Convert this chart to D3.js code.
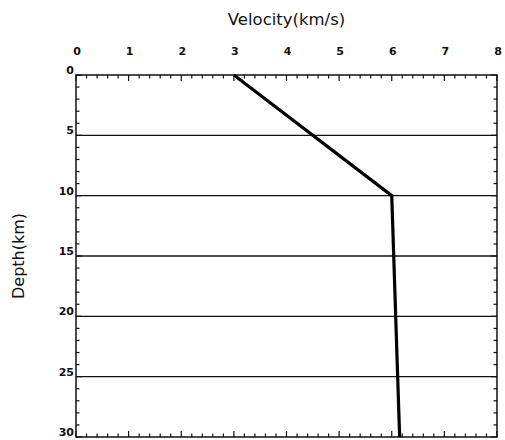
<!DOCTYPE html>
<html>
<head>
<meta charset="utf-8">
<script src="https://cdn.jsdelivr.net/npm/d3@7"></script>
<style>
  body { margin: 0; background: #fff; }
  text { font-family: "DejaVu Sans", Verdana, sans-serif; fill: #111; }
</style>
</head>
<body>
<div id="chart"></div>
<script>
// velocity model
const depths = [0, 10, 30];
const velocities = [3, 6, 6.15];
const xTicks = [0, 1, 2, 3, 4, 5, 6, 7, 8];
const yTicks = [0, 5, 10, 15, 20, 25, 30];
const gridDepths = [5, 10, 15, 20, 25];

const margin = {top: 75, right: 8, bottom: 3, left: 76};
const width = 505 - margin.left - margin.right;
const height = 440 - margin.top - margin.bottom;

const svg = d3.select("#chart")
  .append("svg")
  .attr("width", 505)
  .attr("height", 440)
  .append("g")
  .attr("transform", "translate(" + margin.left + "," + margin.top + ")");

const x = d3.scaleLinear().domain([0, 8]).range([0, width]);
const y = d3.scaleLinear().domain([0, 30]).range([0, height]);

// horizontal grid lines
svg.append("g")
  .selectAll("line")
  .data(gridDepths)
  .enter()
  .append("line")
    .attr("x1", 0)
    .attr("x2", width)
    .attr("y1", d => y(d))
    .attr("y2", d => y(d))
    .attr("stroke", "#111")
    .attr("stroke-width", 1.3);

// ticks on all four sides, pointing inwards
const xMinor = d3.range(0, 8.001, 0.2);
const yMinor = d3.range(0, 30.001, 1);
const isMajorX = d => Math.abs(d - Math.round(d)) < 1e-6;
const isMajorY = d => d % 5 === 0;

function tickSide(vals, major, pos, horiz, edge, dir) {
  svg.append("g")
    .selectAll("line")
    .data(vals)
    .enter()
    .append("line")
      .attr(horiz ? "x1" : "y1", d => pos(d))
      .attr(horiz ? "x2" : "y2", d => pos(d))
      .attr(horiz ? "y1" : "x1", edge)
      .attr(horiz ? "y2" : "x2", d => edge + dir * (major(d) ? 6 : 3.5))
      .attr("stroke", "#111")
      .attr("stroke-width", 1.2);
}
tickSide(xMinor, isMajorX, x, true, 0, 1);
tickSide(xMinor, isMajorX, x, true, height, -1);
tickSide(yMinor, isMajorY, y, false, 0, 1);
tickSide(yMinor, isMajorY, y, false, width, -1);

// frame
svg.append("rect")
  .attr("width", width)
  .attr("height", height)
  .attr("fill", "none")
  .attr("stroke", "#111")
  .attr("stroke-width", 1.5);

// tick labels
svg.append("g")
  .selectAll("text")
  .data(xTicks)
  .enter()
  .append("text")
    .attr("x", d => x(d) + 1)
    .attr("y", -20)
    .attr("text-anchor", "middle")
    .attr("font-size", 11)
    .attr("font-weight", "bold")
    .text(d => d);

svg.append("g")
  .selectAll("text")
  .data(yTicks)
  .enter()
  .append("text")
    .attr("x", -2)
    .attr("y", d => y(d) - 1)
    .attr("text-anchor", "end")
    .attr("font-size", 11)
    .attr("font-weight", "bold")
    .text(d => d);

// axis titles
svg.append("text")
  .attr("x", x(4))
  .attr("y", -50)
  .attr("text-anchor", "middle")
  .attr("font-size", 16.5)
  .text("Velocity(km/s)");

svg.append("text")
  .attr("transform", "translate(-52," + y(15) + ") rotate(-90)")
  .attr("text-anchor", "middle")
  .attr("font-size", 16)
  .text("Depth(km)");

// velocity profile
svg.append("path")
  .datum(d3.zip(velocities, depths))
  .attr("fill", "none")
  .attr("stroke", "#000")
  .attr("stroke-width", 3.2)
  .attr("d", d3.line()
    .x(d => x(d[0]))
    .y(d => y(d[1])));
</script>
</body>
</html>
